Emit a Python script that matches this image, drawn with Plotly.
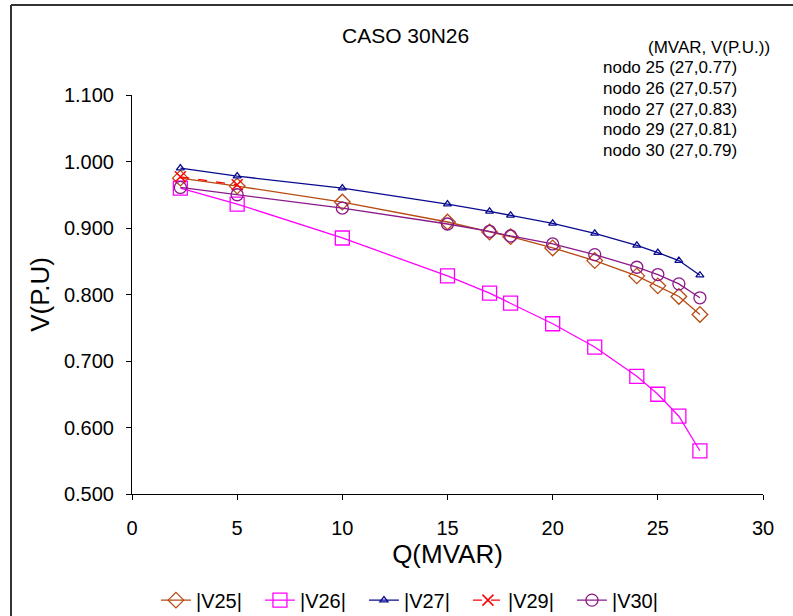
import plotly.graph_objects as go

q = [2.3, 5, 10, 15, 17, 18, 20, 22, 24, 25, 26, 27]
v25 = [0.975, 0.963, 0.939, 0.909, 0.894, 0.887, 0.870, 0.851, 0.828, 0.813, 0.797, 0.770]
v26 = [0.960, 0.936, 0.885, 0.828, 0.802, 0.787, 0.756, 0.721, 0.677, 0.650, 0.617, 0.565]
v27 = [0.990, 0.978, 0.960, 0.936, 0.925, 0.919, 0.907, 0.892, 0.874, 0.863, 0.851, 0.829]
q29 = [2.3, 5]
v29 = [0.977, 0.965]
v30 = [0.961, 0.950, 0.930, 0.906, 0.895, 0.888, 0.876, 0.860, 0.841, 0.830, 0.816, 0.795]

title = "CASO 30N26"
note_header = "(MVAR, V(P.U.))"
notes = ["nodo 25 (27,0.77)", "nodo 26 (27,0.57)", "nodo 27 (27,0.83)",
         "nodo 29 (27,0.81)", "nodo 30 (27,0.79)"]

FONT = "Liberation Sans, Arial, sans-serif"

fig = go.Figure()
fig.add_trace(go.Scatter(x=q, y=v25, name="|V25|", mode="lines+markers",
                         line=dict(color="#B84A12", width=1.3),
                         marker=dict(symbol="diamond-open", size=12, color="#B84A12", line=dict(width=1.3))))
fig.add_trace(go.Scatter(x=q, y=v26, name="|V26|", mode="lines+markers",
                         line=dict(color="#FF00FF", width=1.3),
                         marker=dict(symbol="square-open", size=14, color="#FF00FF", line=dict(width=1.3))))
fig.add_trace(go.Scatter(x=q, y=v27, name="|V27|", mode="lines+markers",
                         line=dict(color="#0A0A90", width=1.3),
                         marker=dict(symbol="triangle-up-open", size=7, color="#0A0A90", line=dict(width=1.3))))
fig.add_trace(go.Scatter(x=q29, y=v29, name="|V29|", mode="lines+markers",
                         line=dict(color="#FF0000", width=1.3, dash="dash"),
                         marker=dict(symbol="x-thin-open", size=11, color="#FF0000", line=dict(width=1.5, color="#FF0000"))))
fig.add_trace(go.Scatter(x=q, y=v30, name="|V30|", mode="lines+markers",
                         line=dict(color="#8A1A8A", width=1.3),
                         marker=dict(symbol="circle-open", size=12, color="#8A1A8A", line=dict(width=1.3))))

fig.update_layout(
    width=793, height=616,
    margin=dict(l=132, r=30, t=95, b=122, autoexpand=False),
    paper_bgcolor="white", plot_bgcolor="white",
    font=dict(family=FONT, color="black", size=20),
    showlegend=True,
    legend=dict(orientation="h", x=0.45, xanchor="center", y=-0.266, yanchor="middle",
                font=dict(size=20), itemwidth=30, tracegroupgap=0,
                entrywidth=59, entrywidthmode="pixels"),
    xaxis=dict(range=[0, 30], tickvals=[0, 5, 10, 15, 20, 25, 30], showgrid=False, zeroline=False,
               showline=True, linecolor="black", linewidth=1, ticks="outside", ticklen=5,
               tickcolor="black", ticklabelstandoff=11, automargin=False,
               title=dict(text="Q(MVAR)", font=dict(size=26), standoff=3)),
    yaxis=dict(range=[0.5, 1.1], tickvals=[0.5, 0.6, 0.7, 0.8, 0.9, 1.0, 1.1], tickformat=".3f",
               showgrid=False, zeroline=False, showline=True, linecolor="black", linewidth=1,
               ticks="outside", ticklen=5, tickcolor="black", ticklabelstandoff=8, automargin=False,
               title=dict(text="V(P.U)", font=dict(size=26), standoff=6)),
)

annots = [dict(text=title, x=405, y=35, font=dict(size=21))]
annots.append(dict(text=note_header, x=709, y=47, font=dict(size=17)))
for i, t in enumerate(notes):
    annots.append(dict(text=t, x=670, y=68 + i * 20.5, font=dict(size=17)))
for a in annots:
    fig.add_annotation(text=a["text"], xref="paper", yref="paper",
                       x=(a["x"] - 132) / 631, y=(494 - a["y"]) / 399,
                       xanchor="center", yanchor="middle", showarrow=False,
                       font=dict(family=FONT, color="black", size=a["font"]["size"]))

# outer chart frame (left and top edges visible)
def px_x(p):
    return (p - 132) / 631
def px_y(p):
    return (494 - p) / 399
fig.add_shape(type="line", xref="paper", yref="paper", x0=px_x(11), x1=px_x(11), y0=px_y(640), y1=px_y(5),
              line=dict(color="#333333", width=2))
fig.add_shape(type="line", xref="paper", yref="paper", x0=px_x(11), x1=px_x(820), y0=px_y(5), y1=px_y(5),
              line=dict(color="#333333", width=2))

fig.write_html("out.html")
